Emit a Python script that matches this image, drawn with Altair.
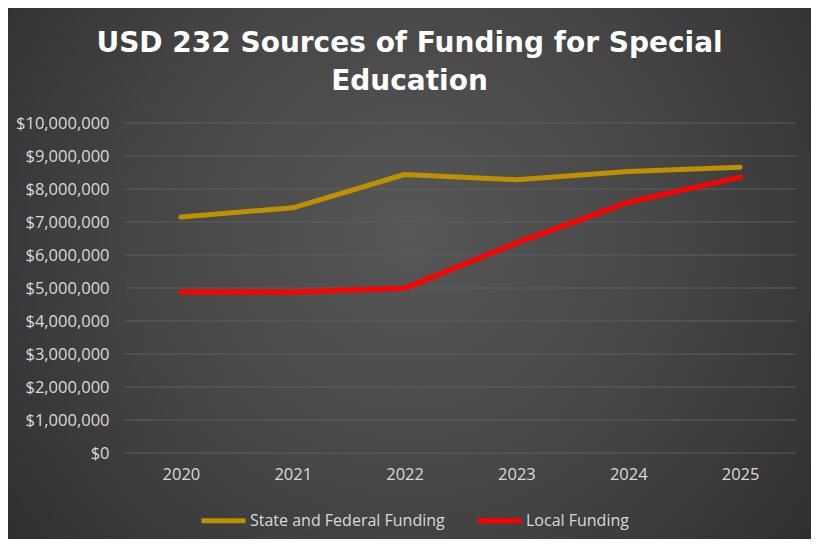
import altair as alt
import pandas as pd

years = ["2020", "2021", "2022", "2023", "2024", "2025"]
state_federal = [7150000, 7430000, 8440000, 8280000, 8530000, 8660000]
local = [4880000, 4880000, 4990000, 6370000, 7600000, 8360000]
series_names = ["State and Federal Funding", "Local Funding"]
series_colors = ["#BF9000", "#FF0000"]
y_ticks = [0, 1000000, 2000000, 3000000, 4000000, 5000000,
           6000000, 7000000, 8000000, 9000000, 10000000]

rows = []
for i, y in enumerate(years):
    rows.append({"year": y, "series": series_names[0], "value": state_federal[i]})
    rows.append({"year": y, "series": series_names[1], "value": local[i]})
df = pd.DataFrame(rows)
ticks_df = pd.DataFrame({"value": y_ticks})

W, H = 671, 330
PL, PT, PR, PB = 117, 115, 15, 86
FONT = "Open Sans"
TXT = "#D9D9D9"
FS = 16.5

yscale = alt.Scale(domain=[0, 10000000], nice=False)
yaxis = alt.Axis(values=y_ticks, format="$,.0f",
                 labelFont=FONT, labelFontSize=FS, labelColor=TXT,
                 labelPadding=16, ticks=False, domain=False,
                 grid=False, zindex=1)

bg = alt.Chart(pd.DataFrame({"a": [0]})).mark_rect(
    color=alt.RadialGradient(
        gradient="radial",
        stops=[
            alt.GradientStop(color="#575757", offset=0),
            alt.GradientStop(color="#454545", offset=0.45),
            alt.GradientStop(color="#262626", offset=1),
        ],
        x1=0.5, y1=0.45, x2=0.5, y2=0.45, r1=0, r2=0.75,
    )
).encode(
    x=alt.value(-PL), x2=alt.value(W + PR),
    y=alt.value(-PT), y2=alt.value(H + PB),
)

grid = alt.Chart(ticks_df).mark_rule(color="#5E5E5E", strokeWidth=1.2).encode(
    y=alt.Y("value:Q", scale=yscale, title=None, axis=yaxis),
    x=alt.value(0), x2=alt.value(W),
)

lines = alt.Chart(df).mark_line(strokeWidth=5, strokeCap="round", strokeJoin="round").encode(
    x=alt.X("year:O", sort=years, title=None,
            axis=alt.Axis(labelAngle=0, labelFont=FONT, labelFontSize=FS, labelColor=TXT,
                          labelPadding=13, ticks=False, domain=False, grid=False, zindex=1)),
    y=alt.Y("value:Q", title=None, scale=yscale, axis=yaxis),
    color=alt.Color("series:N", sort=series_names,
                    scale=alt.Scale(domain=series_names, range=series_colors),
                    legend=alt.Legend(title=None, orient="none", direction="horizontal",
                                      legendX=74, legendY=373,
                                      symbolType="stroke", symbolSize=1936, symbolStrokeWidth=5,
                                      labelFont=FONT, labelFontSize=16, labelColor=TXT,
                                      labelOffset=2, columnPadding=22, labelLimit=400,
                                      symbolLimit=0)),
)

chart = alt.layer(bg, grid, lines).properties(
    width=W, height=H,
    padding={"left": PL, "top": PT, "right": PR, "bottom": PB},
    autosize=alt.AutoSizeParams(type="none"),
    background="#333333",
    title=alt.TitleParams(
        text=["USD 232 Sources of Funding for Special", "Education"],
        font="DejaVu Sans", fontSize=28, fontWeight="bold", color="#FFFFFF",
        anchor="middle", dx=-51, offset=-88, lineHeight=38,
    ),
).configure_view(stroke=None)

chart.save("out.html", embed_options={"renderer": "svg", "actions": False})
